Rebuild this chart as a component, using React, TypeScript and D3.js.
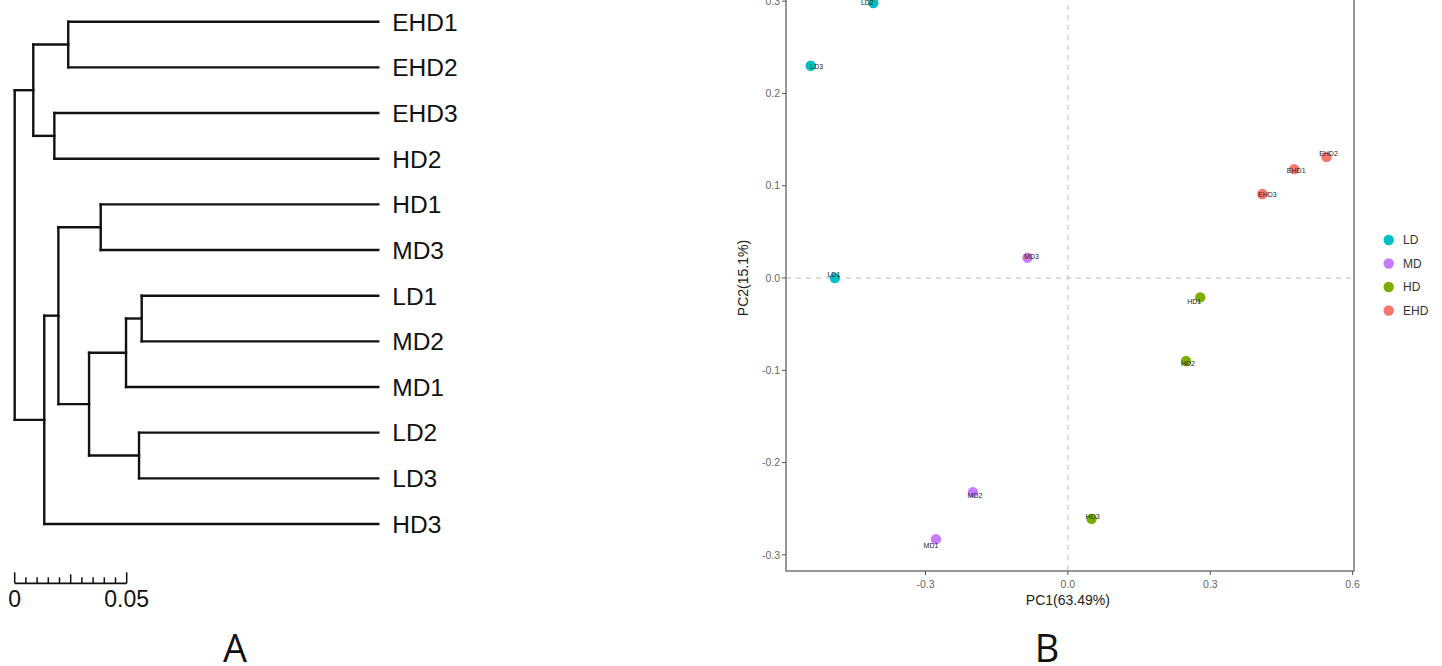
import React from "react";
import * as d3 from "d3";

// ---------- Panel A: dendrogram data ----------
const leafOrder = ["EHD1", "EHD2", "EHD3", "HD2", "HD1", "MD3", "LD1", "MD2", "MD1", "LD2", "LD3", "HD3"];
const leafHeight = 0.1623;
type TNode = { name?: string; d?: number; children?: TNode[] };
const L = (name: string): TNode => ({ name, d: leafHeight });
const treeData: TNode = {
  d: 0,
  children: [
    { d: 0.0083, children: [
      { d: 0.0239, children: [L("EHD1"), L("EHD2")] },
      { d: 0.0177, children: [L("EHD3"), L("HD2")] },
    ] },
    { d: 0.0132, children: [
      { d: 0.0195, children: [
        { d: 0.0384, children: [L("HD1"), L("MD3")] },
        { d: 0.0332, children: [
          { d: 0.0497, children: [
            { d: 0.0567, children: [L("LD1"), L("MD2")] },
            L("MD1"),
          ] },
          { d: 0.0555, children: [L("LD2"), L("LD3")] },
        ] },
      ] },
      L("HD3"),
    ] },
  ],
};
const scaleBarTicks = d3.range(0, 0.0501, 0.005);
const scaleBarLabels = ["0", "0.05"];

// ---------- Panel B: PCA data ----------
const groups = ["LD", "MD", "HD", "EHD"];
const groupColors = ["#00BFC4", "#C77CFF", "#7CAE00", "#F8766D"];
const samples = ["LD1", "LD2", "LD3", "MD1", "MD2", "MD3", "HD1", "HD2", "HD3", "EHD1", "EHD2", "EHD3"];
const sampleGroup = ["LD", "LD", "LD", "MD", "MD", "MD", "HD", "HD", "HD", "EHD", "EHD", "EHD"];
const pc1 = [-0.491, -0.410, -0.542, -0.278, -0.200, -0.085, 0.279, 0.249, 0.050, 0.477, 0.545, 0.410];
const pc2 = [0.0, 0.298, 0.230, -0.283, -0.232, 0.022, -0.021, -0.090, -0.261, 0.118, 0.131, 0.091];
const xTicks = [-0.3, 0.0, 0.3, 0.6];
const yTicks = [-0.3, -0.2, -0.1, 0.0, 0.1, 0.2, 0.3];
const xTitle = "PC1(63.49%)";
const yTitle = "PC2(15.1%)";
// label offsets (px) relative to point — styling only
const labelOffset: Record<string, [number, number]> = {
  LD1: [-1, -3], LD2: [-6, 0], LD3: [6, 1], MD1: [-5, 6], MD2: [2, 3], MD3: [4, -1],
  HD1: [-6, 4], HD2: [2, 2], HD3: [1, -2], EHD1: [2, 1], EHD2: [2, -4], EHD3: [5, 1],
};

function Dendrogram() {
  const x = d3.scaleLinear().domain([0, 0.05]).range([14.7, 126.7]);
  const y = d3.scalePoint().domain(leafOrder).range([21.7, 524]);
  const root = d3.hierarchy<TNode>(treeData);
  const ypos = new Map<any, number>();
  root.eachAfter((n) => {
    if (!n.children) ypos.set(n, y(n.data.name!) as number);
    else ypos.set(n, (ypos.get(n.children[0])! + ypos.get(n.children[n.children.length - 1])!) / 2);
  });
  const paths: string[] = [];
  root.each((n) => {
    const nx = x(n.data.d!);
    if (n.children) {
      const ys = n.children.map((c) => ypos.get(c)!);
      paths.push(`M${nx},${d3.min(ys)}V${d3.max(ys)}`);
      n.children.forEach((c) => {
        paths.push(`M${nx},${ypos.get(c)}H${x(c.data.d!)}`);
      });
    }
  });
  const leaves = root.leaves();
  const barY = 583.3;
  return (
    <g>
      {paths.map((p, i) => (
        <path key={i} d={p} fill="none" stroke="#111" strokeWidth={2.4} strokeLinecap="square" />
      ))}
      {leaves.map((l) => (
        <text key={l.data.name} x={x(leafHeight) + 14} y={ypos.get(l)!} dy="0.36em"
          fontFamily="Liberation Sans, Arial, sans-serif" fontSize={24.5} fill="#111">
          {l.data.name}
        </text>
      ))}
      <path d={`M${x(0)},${barY}H${x(0.05)}`} stroke="#111" strokeWidth={1.8} />
      {scaleBarTicks.map((t, i) => {
        const len = i === 0 || i === scaleBarTicks.length - 1 ? 11 : i === 5 ? 9 : 6;
        return <path key={i} d={`M${x(t)},${barY}V${barY - len}`} stroke="#111" strokeWidth={1.5} />;
      })}
      {scaleBarLabels.map((s, i) => (
        <text key={s} x={x(i === 0 ? 0 : 0.05)} y={607} textAnchor="middle"
          fontFamily="Liberation Sans, Arial, sans-serif" fontSize={23} fill="#111">
          {s}
        </text>
      ))}
    </g>
  );
}

function PCA() {
  const x = d3.scaleLinear().domain([-0.594, 0.603]).range([786, 1354]);
  const y = d3.scaleLinear().domain([-0.3175, 0.3175]).range([571, -15]);
  const color = d3.scaleOrdinal<string, string>().domain(groups).range(groupColors);
  const font = "Liberation Sans, Arial, sans-serif";
  const [x0, x1] = x.range();
  const [y0, y1] = y.range();
  return (
    <g>
      <line x1={x(0)} x2={x(0)} y1={y1} y2={y0} stroke="#cfcfcf" strokeWidth={1.3} strokeDasharray="5,5" />
      <line x1={x0} x2={x1} y1={y(0)} y2={y(0)} stroke="#cfcfcf" strokeWidth={1.3} strokeDasharray="5,5" />
      <rect x={x0} y={y1} width={x1 - x0} height={y0 - y1} fill="none" stroke="#777" strokeWidth={1.5} />
      {xTicks.map((t) => (
        <g key={t}>
          <line x1={x(t)} x2={x(t)} y1={y0} y2={y0 + 4} stroke="#555" strokeWidth={1} />
          <text x={x(t)} y={y0 + 17} textAnchor="middle" fontFamily={font} fontSize={10.5} fill="#666">
            {d3.format(".1f")(t).replace("−", "-")}
          </text>
        </g>
      ))}
      {yTicks.map((t) => (
        <g key={t}>
          <line x1={x0 - 4} x2={x0} y1={y(t)} y2={y(t)} stroke="#555" strokeWidth={1} />
          <text x={x0 - 6} y={y(t)} dy="0.35em" textAnchor="end" fontFamily={font} fontSize={10.5} fill="#666">
            {d3.format(".1f")(t).replace("−", "-")}
          </text>
        </g>
      ))}
      <text x={x(0)} y={605} textAnchor="middle" fontFamily={font} fontSize={14} fill="#222">{xTitle}</text>
      <text transform={`translate(748,${y(0)}) rotate(-90)`} textAnchor="middle" fontFamily={font} fontSize={14} fill="#222">{yTitle}</text>
      {samples.map((s, i) => (
        <circle key={s} cx={x(pc1[i])} cy={y(pc2[i])} r={5.2} fill={color(sampleGroup[i])} />
      ))}
      {samples.map((s, i) => (
        <text key={s} x={x(pc1[i]) + labelOffset[s][0]} y={y(pc2[i]) + labelOffset[s][1]} dy="0.35em"
          textAnchor="middle" fontFamily={font} fontSize={7} fill="#222">
          {s}
        </text>
      ))}
      {groups.map((g, i) => (
        <g key={g}>
          <circle cx={1388.7} cy={240 + i * 23.5} r={5.2} fill={color(g)} />
          <text x={1403} y={240 + i * 23.5} dy="0.36em" fontFamily={font} fontSize={12} fill="#333">{g}</text>
        </g>
      ))}
    </g>
  );
}

export default function App() {
  return (
    <svg width={1442} height={666} viewBox="0 0 1442 666"
      style={{ position: "absolute", left: 0, top: 0, background: "#fff", overflow: "hidden" }}>
      <rect width={1442} height={666} fill="#fff" />
      <Dendrogram />
      <PCA />
      <text x={235} y={662} textAnchor="middle" fontFamily="Open Sans, Noto Sans, sans-serif" fontSize={38} fill="#111">A</text>
      <text x={1047} y={662} textAnchor="middle" fontFamily="Open Sans, Noto Sans, sans-serif" fontSize={38} fill="#111">B</text>
    </svg>
  );
}
